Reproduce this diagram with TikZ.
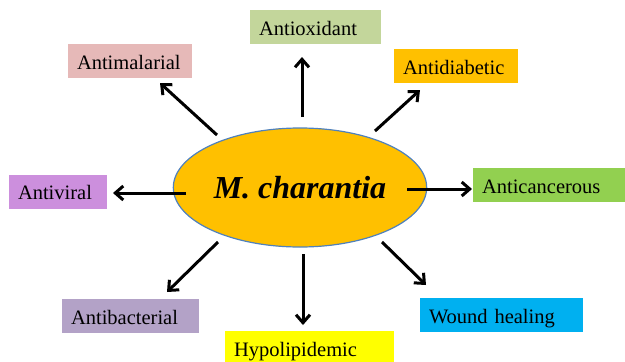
\documentclass[tikz,border=0pt]{standalone}
\usepackage{fontspec}
\setmainfont{Liberation Serif}
\usepackage{tikz}
\usetikzlibrary{shapes.geometric, arrows.meta}
\definecolor{MC_Orange}{HTML}{FFC000}
\definecolor{MC_Edge}{HTML}{4F81BD}
\definecolor{Box_Olive}{HTML}{C3D69B}
\definecolor{Box_Rose}{HTML}{E6B9B8}
\definecolor{Box_Violet}{HTML}{CC8FDD}
\definecolor{Box_Green}{HTML}{92D050}
\definecolor{Box_Lilac}{HTML}{B3A2C7}
\definecolor{Box_Yellow}{HTML}{FFFF00}
\definecolor{Box_Cyan}{HTML}{00B0F0}

\begin{document}
\begin{tikzpicture}[x=1pt, y=-1pt,
    effect/.style={rectangle, inner xsep=9pt, inner ysep=0pt, minimum height=34pt,
        text height=20pt, text depth=4pt, align=left, font=\fontsize{20.5}{24}\selectfont},
    arr/.style={-{Straight Barb[length=8pt, width=14pt]}, line width=3pt}]
    \useasboundingbox (0,0) rectangle (625,362);

    % Centre ellipse
    \node[ellipse, fill=MC_Orange, draw=MC_Edge, line width=1.2pt, minimum width=206pt, minimum height=119pt,
        font=\fontsize{32}{38}\selectfont\bfseries\itshape] (mc) at (300,187.5) {M. charantia};

    % Effect boxes
    \node[effect, fill=Box_Olive, text width=113pt] (ox) at (315.5,27) {Antioxidant};
    \node[effect, fill=Box_Rose, text width=106pt] (mal) at (130,61) {Antimalarial};
    \node[effect, fill=MC_Orange, text width=106pt] (dia) at (456,66) {Antidiabetic};
    \node[effect, fill=Box_Violet, text width=80pt] (vir) at (58,191.5) {Antiviral};
    \node[effect, fill=Box_Green, text width=134pt] (can) at (549,185) {Anticancerous};
    \node[effect, fill=Box_Lilac, text width=119pt] (bac) at (130.5,316) {Antibacterial};
    \node[effect, fill=Box_Yellow, text width=151pt] (hyp) at (309.5,348) {Hypolipidemic};
    \node[effect, fill=Box_Cyan, text width=145pt] (wnd) at (501.5,315) {Wound healing};

    % Arrow ends
    \coordinate (ox-t) at (302,117);  \coordinate (ox-h) at (302,57);
    \coordinate (mal-t) at (217,135); \coordinate (mal-h) at (160,83);
    \coordinate (dia-t) at (375,131); \coordinate (dia-h) at (420,90);
    \coordinate (vir-t) at (186,193); \coordinate (vir-h) at (113,193);
    \coordinate (can-t) at (407,189); \coordinate (can-h) at (472,189);
    \coordinate (bac-t) at (218,242); \coordinate (bac-h) at (167,292);
    \coordinate (hyp-t) at (303,254); \coordinate (hyp-h) at (303,325);
    \coordinate (wnd-t) at (382,242); \coordinate (wnd-h) at (426,285);

    % Arrows
    \draw[arr] (ox-t) -- (ox-h);
    \draw[arr] (mal-t) -- (mal-h);
    \draw[arr] (dia-t) -- (dia-h);
    \draw[arr] (vir-t) -- (vir-h);
    \draw[arr] (can-t) -- (can-h);
    \draw[arr] (bac-t) -- (bac-h);
    \draw[arr] (hyp-t) -- (hyp-h);
    \draw[arr] (wnd-t) -- (wnd-h);
\end{tikzpicture}
\end{document}
